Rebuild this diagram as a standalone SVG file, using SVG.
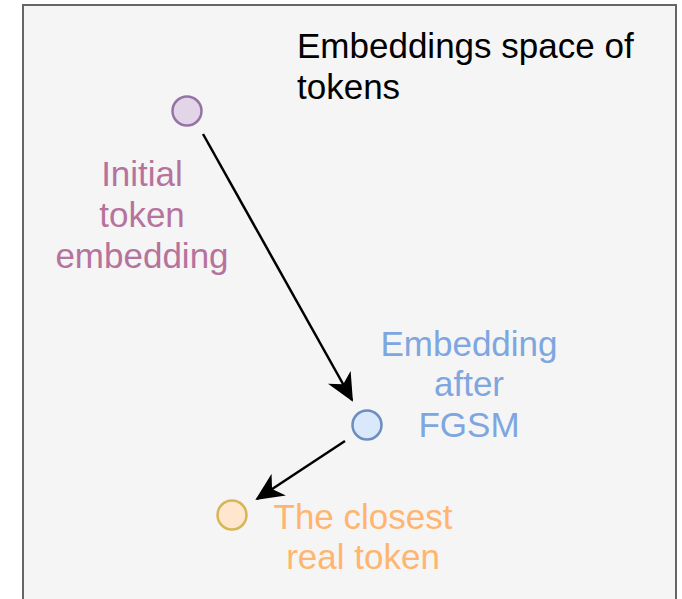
<svg xmlns="http://www.w3.org/2000/svg" width="682" height="599" viewBox="0 0 682 599">
  <style>
    .lbl { font-family: "Liberation Sans", Arial, sans-serif; font-size: 35px; }
    .title { fill: #000000; }
    .purple { fill: #B5739D; text-anchor: middle; }
    .blue { fill: #7EA6E0; text-anchor: middle; }
    .orange { fill: #FFB570; text-anchor: middle; }
    .edge { stroke: #000000; stroke-width: 2.5; fill: none; }
  </style>
  <defs>
    <marker id="arrow" markerUnits="userSpaceOnUse" markerWidth="28" markerHeight="26" refX="26" refY="13" orient="auto" viewBox="0 0 28 26">
      <path d="M0,0 L28,13 L0,26 L8,13 Z" fill="#000000"/>
    </marker>
  </defs>
  <rect x="0" y="0" width="682" height="599" fill="#ffffff"/>
  <g id="space">
    <rect x="23" y="5" width="653" height="640" fill="#f5f5f5" stroke="#666666" stroke-width="2"/>
    <text class="lbl title" x="297" y="58">Embeddings space of</text>
    <text class="lbl title" x="297" y="99">tokens</text>
  </g>
  <g id="initial">
    <circle cx="187" cy="111" r="14.5" fill="#e1d5e7" stroke="#9673a6" stroke-width="2.5"/>
    <text class="lbl purple" x="142" y="186">Initial</text>
    <text class="lbl purple" x="142" y="227">token</text>
    <text class="lbl purple" x="142" y="268">embedding</text>
  </g>
  <g id="fgsm">
    <circle cx="367" cy="425" r="14.5" fill="#dae8fc" stroke="#6c8ebf" stroke-width="2.5"/>
    <text class="lbl blue" x="469" y="356">Embedding</text>
    <text class="lbl blue" x="469" y="396">after</text>
    <text class="lbl blue" x="469" y="437">FGSM</text>
  </g>
  <g id="closest">
    <circle cx="232" cy="515" r="14.5" fill="#ffe6cc" stroke="#d6b656" stroke-width="2.5"/>
    <text class="lbl orange" x="363" y="529">The closest</text>
    <text class="lbl orange" x="363" y="569">real token</text>
  </g>
  <g id="connectors">
    <line class="edge" x1="203" y1="134" x2="352" y2="400" marker-end="url(#arrow)"/>
    <line class="edge" x1="345" y1="441" x2="257" y2="499" marker-end="url(#arrow)"/>
  </g>
</svg>
